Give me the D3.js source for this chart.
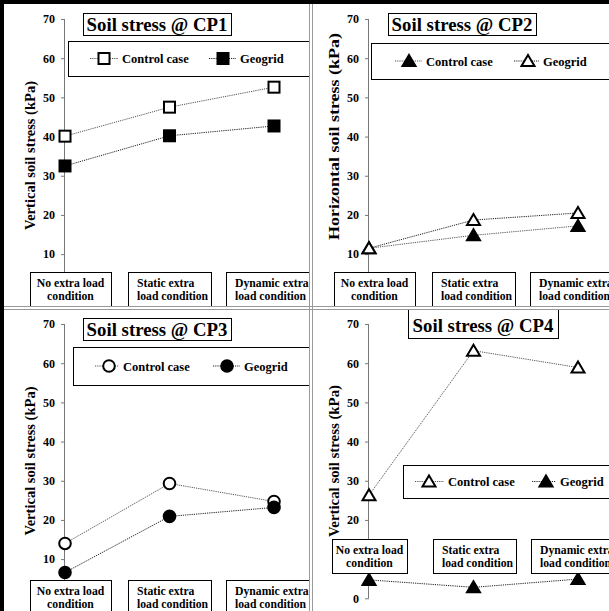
<!DOCTYPE html>
<html>
<head>
<meta charset="utf-8">
<script src="https://cdn.jsdelivr.net/npm/d3@7"></script>
<style>
  body { margin: 0; background: #fff; }
  svg { display: block; font-family: "Liberation Serif", "Times New Roman", serif; font-weight: bold; }
</style>
</head>
<body>
<div id="chart"></div>
<script>
// categories on the x axis, two text lines per box
const categories = ["No extra load condition", "Static extra load condition", "Dynamic extra load condition"];
const catLines = [["No extra load", "condition"], ["Static extra", "load condition"], ["Dynamic extra", "load condition"]];
const seriesNames = ["Control case", "Geogrid"];
const yTicks = [0, 10, 20, 30, 40, 50, 60, 70];

// values (kPa)
const cp1Control = [40.1, 47.5, 52.6];
const cp1Geogrid = [32.5, 40.2, 42.7];
const cp2Control = [11.5, 14.8, 17.2];
const cp2Geogrid = [11.5, 18.7, 20.5];
const cp3Control = [14.0, 29.3, 24.7];
const cp3Geogrid = [6.6, 20.9, 23.2];
const cp4Control = [26.3, 63.2, 58.9];
const cp4Geogrid = [4.7, 2.8, 4.9];

const W = 609, H = 611;

// panel layout (positions only); hideTick = tick label covered by the category boxes
const panels = [
  { title: "Soil stress @ CP1", ylab: "Vertical soil stress (kPa)", data: [cp1Control, cp1Geogrid],
    marks: ["squareOpen", "squareFill"], dx: 0, dy: 0, clip: [0, 0, 309, 306],
    tbox: [83, 13, 148, 22, 31], leg: [68, 41, 35, [[90, 122], [209, 240]]],
    cat: [272, [30, 128, 226], [81, 83, 84]], labY: 155.5, labLen: 149, hideTick: [0] },
  { title: "Soil stress @ CP2", ylab: "Horizontal soil stress (kPa)", data: [cp2Control, cp2Geogrid],
    marks: ["triFill", "triOpen"], dx: 304, dy: 0, clip: [8, 0, 305, 306],
    tbox: [84, 13, 148, 22, 31], leg: [67, 43, 36, [[91, 122], [210, 239]]],
    cat: [272, [30, 128, 226], [81, 83, 84]], labY: 136.5, labLen: 207, hideTick: [0] },
  { title: "Soil stress @ CP3", ylab: "Vertical soil stress (kPa)", data: [cp3Control, cp3Geogrid],
    marks: ["circOpen", "circFill"], dx: 0, dy: 305, clip: [0, 5, 309, 306],
    tbox: [83, 13, 148, 22, 31], leg: [73, 42, 38, [[95, 123], [213, 244]]],
    cat: [275, [30, 128, 226], [81, 83, 84]], labY: 156, labLen: 149, hideTick: [0] },
  { title: "Soil stress @ CP4", ylab: "Vertical soil stress (kPa)", data: [cp4Control, cp4Geogrid],
    marks: ["triOpen", "triFill"], dx: 304, dy: 305, clip: [8, 5, 305, 306],
    tbox: [104, 3, 150, 30, 27], leg: [99, 160, 33, [[111, 144], [228, 256]]],
    cat: [234, [28, 129, 227], [75, 83, 85]], labY: 156, labLen: 152, hideTick: [10] }
];

const svg = d3.select("#chart").append("svg").attr("width", W).attr("height", H);
svg.append("rect").attr("width", W).attr("height", H).attr("fill", "#fff");

const x = d3.scalePoint().domain(categories).range([65, 274]);
const y = d3.scaleLinear().domain([0, 70]).range([293.3, 19]);

function drawMarker(g, type, cx, cy) {
  const fill = type.endsWith("Fill") ? "#000" : "#fff";
  if (type.startsWith("square")) {
    g.append("rect").attr("x", cx - 5.5).attr("y", cy - 5.5).attr("width", 11).attr("height", 11)
      .attr("fill", fill).attr("stroke", "#000").attr("stroke-width", 2);
  } else if (type.startsWith("circ")) {
    g.append("circle").attr("cx", cx).attr("cy", cy).attr("r", 5.8)
      .attr("fill", fill).attr("stroke", "#000").attr("stroke-width", 2);
  } else {
    g.append("path").attr("d", `M${cx},${cy - 6}L${cx + 6.5},${cy + 5}L${cx - 6.5},${cy + 5}Z`)
      .attr("fill", fill).attr("stroke", "#000").attr("stroke-width", 2).attr("stroke-linejoin", "miter");
  }
}

const lineStroke = ["#555", "#222"];

panels.forEach((p, pi) => {
  const cid = "clip" + pi;
  svg.append("clipPath").attr("id", cid).append("rect")
    .attr("x", p.clip[0]).attr("y", p.clip[1])
    .attr("width", p.clip[2] - p.clip[0]).attr("height", p.clip[3] - p.clip[1]);
  const g = svg.append("g").attr("transform", `translate(${p.dx},${p.dy})`)
    .append("g").attr("clip-path", `url(#${cid})`);

  // y axis
  const ax = g.append("g").attr("transform", "translate(65,0)")
    .call(d3.axisLeft(y).tickValues(yTicks).tickSize(4).tickPadding(6)
      .tickFormat(d => p.hideTick.includes(d) ? "" : d3.format("d")(d)));
  ax.select(".domain").attr("stroke", "#777").attr("d", `M-0.5,${y(70)}V${y(0)}`);
  ax.selectAll(".tick line").attr("stroke", "#777");
  ax.selectAll(".tick text").attr("font-size", 12).attr("font-family", "Liberation Serif")
    .attr("font-weight", "bold").attr("fill", "#000");

  // y label
  g.append("text").attr("transform", `translate(35,${p.labY}) rotate(-90)`)
    .attr("text-anchor", "middle").attr("font-size", 14.5)
    .attr("textLength", p.labLen).attr("lengthAdjust", "spacingAndGlyphs")
    .text(p.ylab);

  // series lines
  const line = d3.line().x((d, i) => x(categories[i])).y(d => y(d));
  p.data.forEach((vals, si) => {
    g.append("path").attr("d", line(vals)).attr("fill", "none")
      .attr("stroke", lineStroke[si]).attr("stroke-width", 1).attr("stroke-dasharray", "1.2,1");
  });
  p.data.forEach((vals, si) => {
    vals.forEach((v, i) => drawMarker(g, p.marks[si], x(categories[i]), y(v)));
  });

  // category boxes
  const [cy0, cxs, cws] = p.cat;
  catLines.forEach((lines, i) => {
    const bx = cxs[i], bw = cws[i];
    g.append("rect").attr("x", bx + 0.5).attr("y", cy0 + 0.5).attr("width", bw).attr("height", 34)
      .attr("fill", "#fff").attr("stroke", "#000").attr("stroke-width", 1);
    lines.forEach((t, li) => {
      g.append("text").attr("x", i === 0 ? bx + bw / 2 : bx + 9).attr("y", cy0 + 15 + li * 12.5)
        .attr("text-anchor", i === 0 ? "middle" : "start").attr("font-size", 11.7).text(t);
    });
  });

  // title box
  const [tx, ty, tw, th, tb] = p.tbox;
  g.append("rect").attr("x", tx + 0.5).attr("y", ty + 0.5).attr("width", tw).attr("height", th)
    .attr("fill", "#fff").attr("stroke", "#000");
  g.append("text").attr("x", tx + tw / 2).attr("y", tb).attr("text-anchor", "middle")
    .attr("font-size", 18.8).text(p.title);

  // legend
  const [lx, ly, lh, items] = p.leg;
  g.append("rect").attr("x", lx + 0.5).attr("y", ly + 0.5).attr("width", 400).attr("height", lh)
    .attr("fill", "#fff").attr("stroke", "#000");
  const lcy = ly + lh / 2;
  items.forEach(([s0, t0], si) => {
    g.append("line").attr("x1", s0).attr("x2", t0 - 4).attr("y1", lcy).attr("y2", lcy)
      .attr("stroke", lineStroke[si]).attr("stroke-dasharray", "1.2,1");
    drawMarker(g, p.marks[si], s0 + 14, lcy);
    g.append("text").attr("x", t0).attr("y", lcy + 4.5).attr("font-size", 12.5).text(seriesNames[si]);
  });
});

// panel dividers and outer border
[309, 312].forEach(v => svg.append("line").attr("x1", v + 0.5).attr("x2", v + 0.5).attr("y1", 0).attr("y2", H)
  .attr("stroke", "#999"));
[306, 309].forEach(v => svg.append("line").attr("y1", v + 0.5).attr("y2", v + 0.5).attr("x1", 0).attr("x2", W)
  .attr("stroke", "#999"));
svg.append("rect").attr("x", 0).attr("y", 0).attr("width", W).attr("height", 4).attr("fill", "#000");
svg.append("rect").attr("x", 0).attr("y", 0).attr("width", 4).attr("height", H).attr("fill", "#000");
</script>
</body>
</html>
